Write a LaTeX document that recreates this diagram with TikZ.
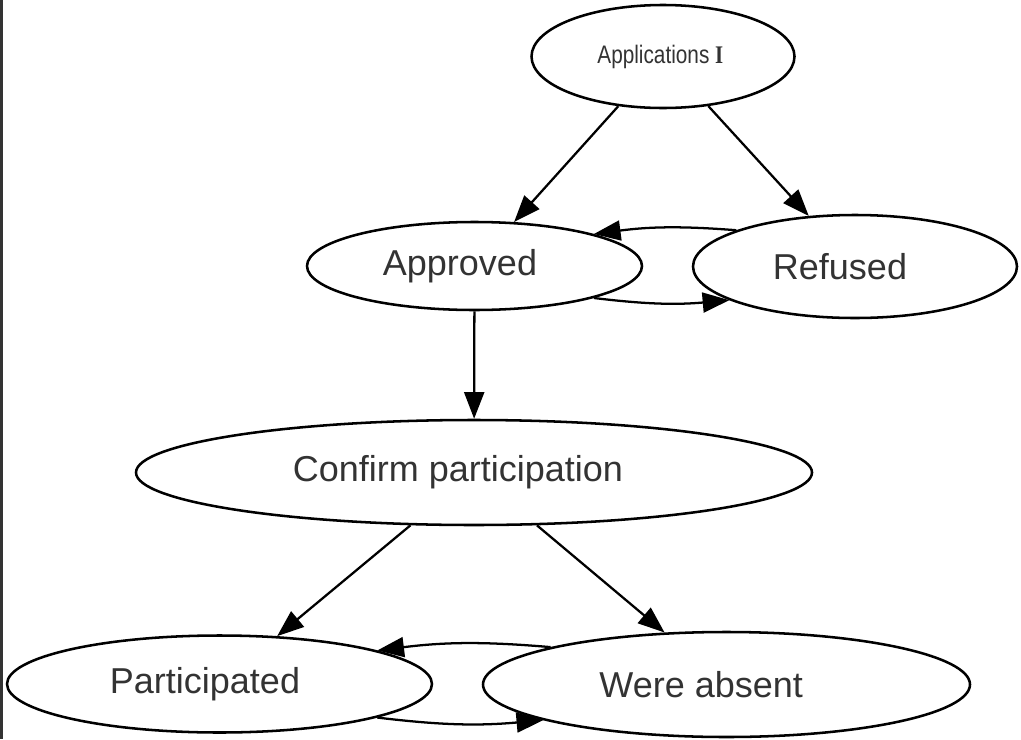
\documentclass[tikz,border=0pt]{standalone}
\usepackage{fontspec}
\setmainfont{Liberation Sans}
\usepackage{tikz}
\usetikzlibrary{arrows.meta,shapes.geometric}

\begin{document}
\begin{tikzpicture}[
x=0.75pt,y=-0.75pt,
st/.style={ellipse,draw,line width=1.9pt,inner sep=0pt,text=black!80,font=\fontsize{27}{32}\selectfont},
t/.style={-{Triangle[length=20pt,width=15pt]},line width=1.7pt}
]
\useasboundingbox (0,0) rectangle (1021,739);
\fill[black!80] (0,0) rectangle (3,739);

% text sits a little left of each centre
\node[st,minimum width=197.25pt,minimum height=77.25pt] (apps) at (663,56.5)
  {\scalebox{0.82}[1]{\fontsize{19}{22}\selectfont Applications {\fontspec{Liberation Serif}\bfseries I}}\hspace*{4pt}};
\node[st,minimum width=251.25pt,minimum height=66pt] (app) at (474.5,266) {Approved\hspace*{21.75pt}};
\node[st,minimum width=243pt,minimum height=77.25pt] (ref) at (855,266.5) {Refused\hspace*{22.5pt}};
\node[st,minimum width=507pt,minimum height=78.75pt] (conf) at (474,472.5) {Confirm participation\hspace*{24pt}};
\node[st,minimum width=318.75pt,minimum height=72.75pt] (part) at (219.5,684) {Participated\hspace*{21.75pt}};
\node[st,minimum width=365.25pt,minimum height=78.75pt] (abs) at (726.5,684.5) {Were absent\hspace*{38pt}};

\draw[t] (apps) -- (app);
\draw[t] (apps) -- (ref);
\draw[t] (ref.163) to[bend right=6] (app.15);
\draw[t] (app.-15) to[bend right=6] (ref.195);
\draw[t] (app) -- (conf);
\draw[t] (conf) -- (part);
\draw[t] (conf) -- (abs);
\draw[t] (abs.168) to[bend right=6] (part.12);
\draw[t] (part.-12) to[bend right=6] (abs.191);
\end{tikzpicture}
\end{document}
